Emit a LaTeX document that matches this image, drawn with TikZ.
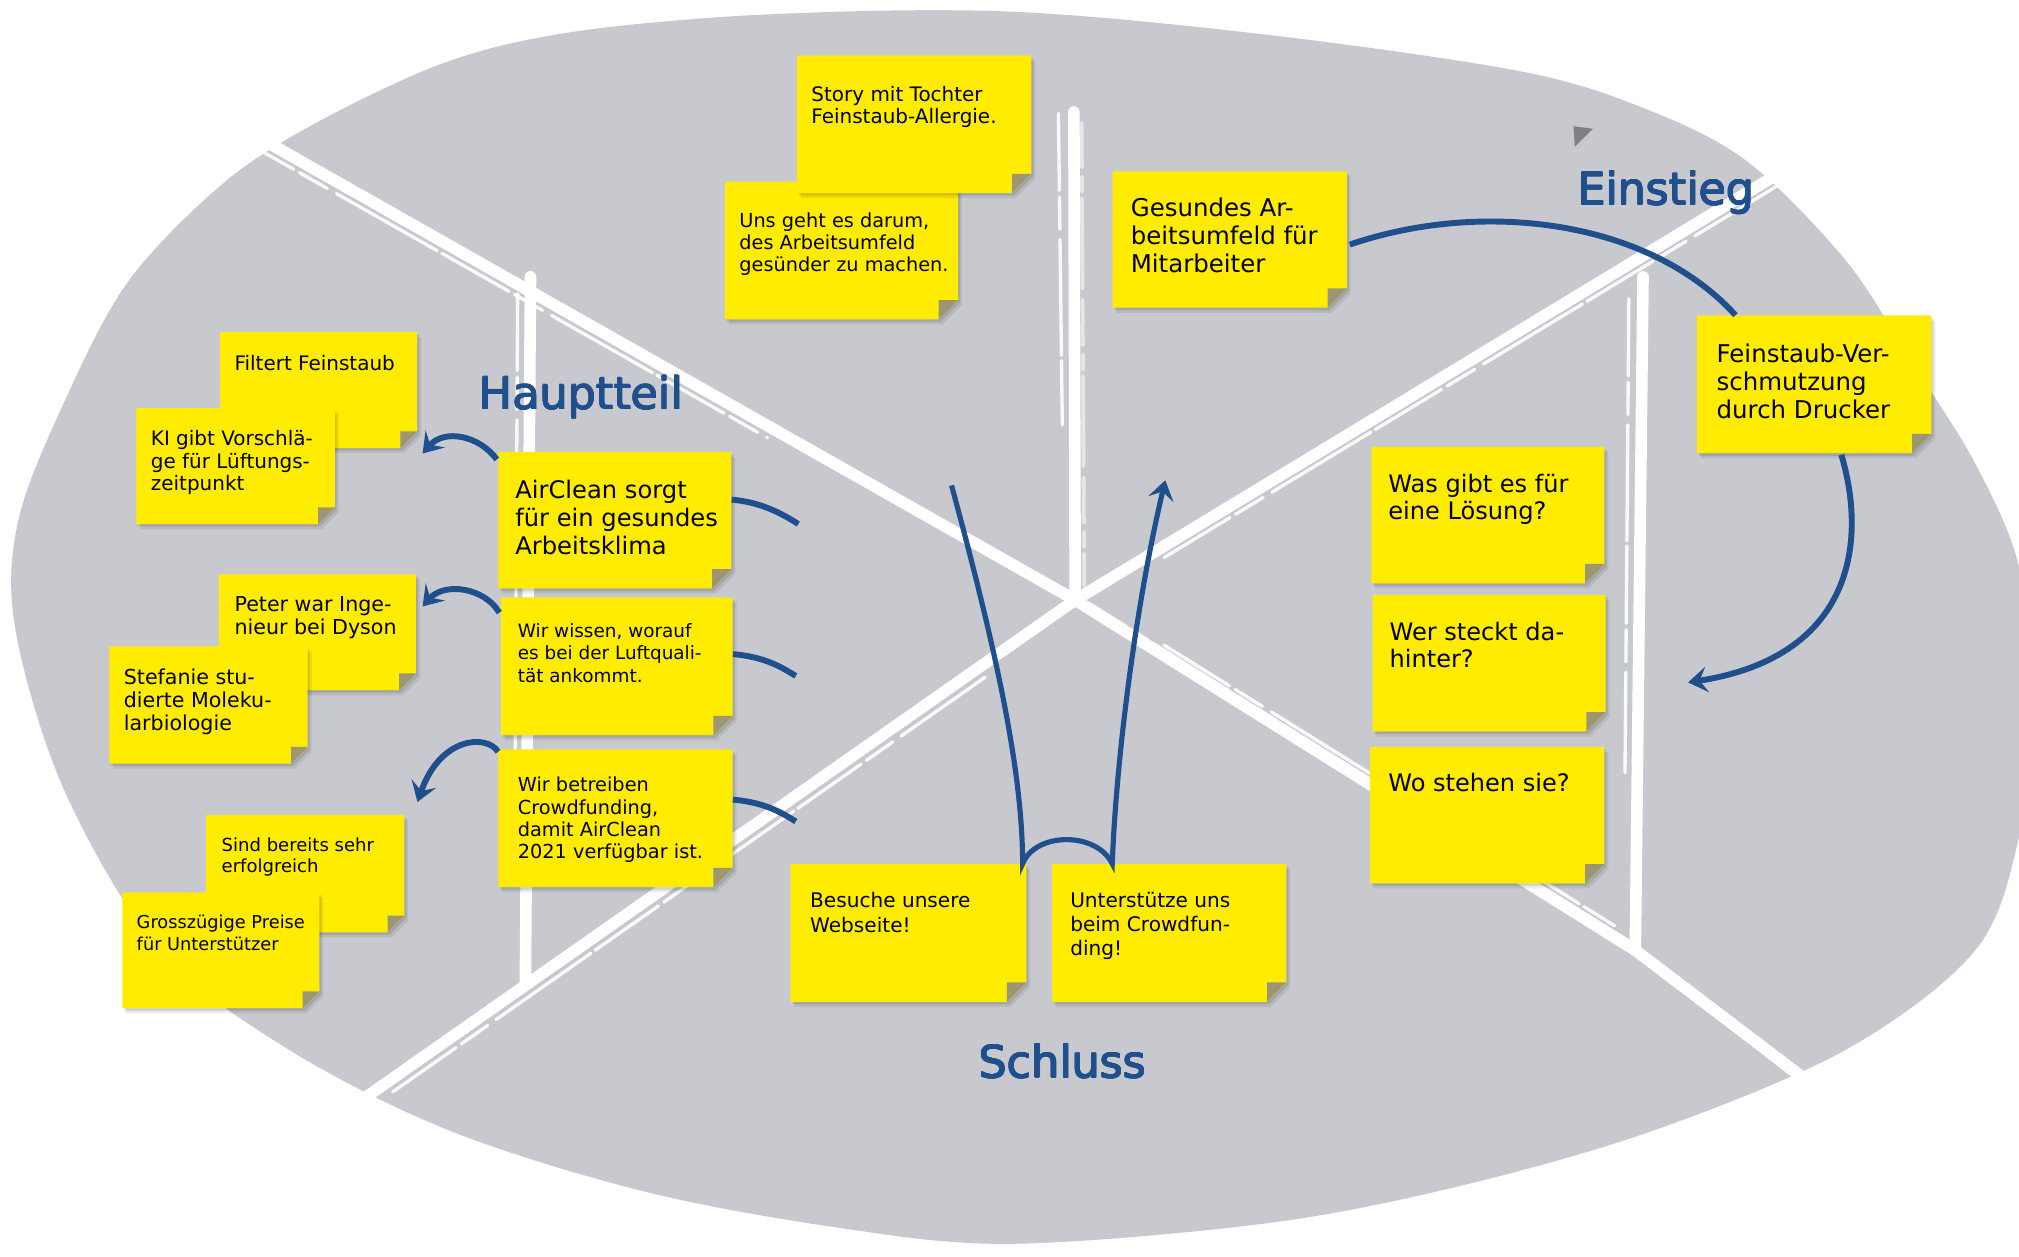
\documentclass[tikz,border=0pt]{standalone}
\usepackage{fontspec}
\setmainfont{DejaVu Sans}
\newfontfamily\titlefont{DejaVu Sans}
\usetikzlibrary{arrows.meta,calc}

\definecolor{blobgray}{RGB}{200,201,206}
\definecolor{noteyellow}{RGB}{255,236,0}
\definecolor{foldolive}{RGB}{156,150,114}
\definecolor{inkblue}{RGB}{31,79,140}
\definecolor{markgray}{RGB}{128,128,128}

% sticky note: name, x1, y1, x2, y2, fold size, font, text offset, text
\newcommand\stickynote[9]{%
  \fill[black,opacity=0.10,shift={(1.5,2)}] (#2,#3) -- (#4,#3) -- (#4,{#5-#6}) -- ({#4-#6},#5) -- (#2,#5) -- cycle;
  \fill[black,opacity=0.08,shift={(3,4)}] (#2,#3) -- (#4,#3) -- (#4,{#5-#6}) -- ({#4-#6},#5) -- (#2,#5) -- cycle;
  \fill[noteyellow] (#2,#3) -- (#4,#3) -- (#4,{#5-#6}) -- ({#4-#6},#5) -- (#2,#5) -- cycle;
  \fill[foldolive] (#4,{#5-#6}) -- ({#4-#6},#5) -- ({#4-#6},{#5-#6}) -- cycle;
  \node[inner sep=0pt, minimum width={#4-#2}, minimum height={#5-#3}] (#1) at ({(#2+#4)/2},{(#3+#5)/2}) {};
  \node[notetext, font={#7}] at ($(#2,#3)+(#8)$) {#9};
}

% section title, set a little heavier by overprinting with small offsets
\newcommand\sectiontitle[3]{%
  \foreach \dx/\dy in {0.4/0,-0.4/0,0/0.4,0/-0.4,0.3/0.3,-0.3/-0.3,0.3/-0.3,-0.3/0.3}
    \node[title] at ($(#2)+(\dx,\dy)$) {#3};
  \node[title] (#1) at (#2) {#3};
}

\begin{document}
\begin{tikzpicture}[x=1pt, y=-1pt,
  brush/.style={white, line width=9pt, line cap=round, line join=round},
  brushedge/.style={white, line width=3pt, line cap=round, opacity=0.55,
    dash pattern=on 35pt off 7pt on 12pt off 5pt on 70pt off 9pt},
  brushfine/.style={white, line width=2.6pt, line cap=round, opacity=0.9,
    dash pattern=on 60pt off 5pt on 25pt off 8pt on 90pt off 4pt},
  inkline/.style={inkblue, line width=4.6pt},
  inkarrow/.style={inkline, -{Stealth[length=15pt,width=20pt,inset=6pt]}},
  notetext/.style={anchor=north west, inner sep=0pt, align=left, text=black},
  title/.style={anchor=base west, inner sep=0pt, text=inkblue,
    font=\titlefont\fontsize{34.5}{40}\selectfont},
]
\useasboundingbox (0,0) rectangle (1568,976);
\fill[white] (0,0) rectangle (1568,976);

\begin{scope}
\clip (0,0) rectangle (1568,976);
% grey backdrop
\fill[blobgray] plot[smooth cycle, tension=0.55] coordinates {
  (784,9) (984,27) (1184,56) (1284,87) (1359,127) (1434,203) (1484,280)
  (1534,360) (1568,440) (1580,545) (1568,650) (1534,738) (1434,815)
  (1284,878) (1134,921) (984,950) (784,966) (648,953) (499,925) (349,878)
  (224,815) (124,738) (50,614) (12,489) (14,405) (50,312) (100,218)
  (175,141) (250,93) (350,47) (450,24) (600,11)};

% white brush strokes: a cross with three uprights
\coordinate (hub) at (835,466);
\draw[brush] (150,78) -- (hub) -- (1270,738) -- (1490,905);
\draw[brush] (230,890) -- (hub) -- (1480,75);
\draw[brush, line width=4pt, opacity=0.6] (230,890) -- (190,946);
\draw[brushedge] (160,80) -- (830,460);
\draw[brushedge] (240,880) -- (830,470);
\draw[brushedge] (845,462) -- (1470,82);
\draw[brushedge] (845,468) -- (1265,731);
\draw[brushfine] (176,102) -- (596,340);
\draw[brushfine] (305,848) -- (765,526);
\draw[brushfine] (904,433) -- (1404,130);
\draw[brushfine] (904,501) -- (1254,719);
\draw[brushfine] (1285,752) -- (1460,888);
\draw[brush] (834,87) -- (hub);
\draw[brushedge] (840,95) -- (842,455);
\draw[brushfine] (822,88) -- (825,330);
\draw[brush] (412,215) -- (408,765);
\draw[brushfine] (402,228) -- (400,600);
\draw[brush] (1276,215) -- (1270,738);
\draw[brushfine] (1265,232) -- (1262,600);
\end{scope}

% notes
\stickynote{unsnote}{563}{141}{744}{248}{15}{\fontsize{15}{17.2}\selectfont}{11,24}{Uns geht es darum,\\des Arbeitsumfeld\\gesünder zu machen.}
\stickynote{story}{619}{43}{801}{150}{15}{\fontsize{15.5}{17.3}\selectfont}{11,23.5}{Story mit Tochter\\Feinstaub-Allergie.}
\stickynote{gesund}{864}{133}{1046}{239}{15}{\fontsize{19}{21.7}\selectfont}{14,20.5}{Gesundes Ar-\\beitsumfeld für\\Mitarbeiter}
\stickynote{feinst}{1318}{245}{1500}{352}{15}{\fontsize{19}{21.7}\selectfont}{15,22}{Feinstaub-Ver-\\schmutzung\\durch Drucker}
\stickynote{loesung}{1065}{347}{1246}{453}{15}{\fontsize{18.7}{20.7}\selectfont}{13,21}{Was gibt es für\\eine Lösung?}
\stickynote{dahinter}{1066}{462}{1247}{568}{15}{\fontsize{18.7}{20.8}\selectfont}{13,21}{Wer steckt da-\\hinter?}
\stickynote{stehen}{1064}{580}{1246}{686}{15}{\fontsize{18.7}{20.8}\selectfont}{14,20}{Wo stehen sie?}
\stickynote{filtert}{171}{258}{324}{348}{13}{\fontsize{15.5}{17.5}\selectfont}{11,18}{Filtert Feinstaub}
\stickynote{ki}{106}{317}{260}{407}{13}{\fontsize{15.5}{17.5}\selectfont}{11,17.3}{KI gibt Vorschlä-\\ge für Lüftungs-\\zeitpunkt}
\stickynote{air}{387}{351}{568}{457}{15}{\fontsize{18.8}{21.9}\selectfont}{13,21.3}{AirClean sorgt\\für ein gesundes\\Arbeitsklima}
\stickynote{peter}{170}{446}{323}{536}{13}{\fontsize{16}{18}\selectfont}{12,17}{Peter war Inge-\\nieur bei Dyson}
\stickynote{stef}{85}{502}{239}{593}{13}{\fontsize{16}{18}\selectfont}{11,17.3}{Stefanie stu-\\dierte Moleku-\\larbiologie}
\stickynote{wissen}{389}{464}{569}{571}{15}{\fontsize{14.3}{17.5}\selectfont}{13,20}{Wir wissen, worauf\\es bei der Luftquali-\\tät ankommt.}
\stickynote{betr}{387}{582}{569}{689}{15}{\fontsize{15}{17.4}\selectfont}{15,21.2}{Wir betreiben\\Crowdfunding,\\damit AirClean\\2021 verfügbar ist.}
\stickynote{sind}{160}{633}{314}{724}{13}{\fontsize{14}{16.5}\selectfont}{12,17.2}{Sind bereits sehr\\erfolgreich}
\stickynote{preise}{95}{693}{248}{783}{13}{\fontsize{13.8}{16.8}\selectfont}{11,17.7}{Grosszügige Preise\\für Unterstützer}
\stickynote{besuch}{614}{671}{797}{778}{15}{\fontsize{15.6}{19}\selectfont}{15,22}{Besuche unsere\\Webseite!}
\stickynote{unter}{817}{671}{999}{778}{15}{\fontsize{15.6}{18.7}\selectfont}{14,22}{Unterstütze uns\\beim Crowdfun-\\ding!}

% free ends of connectors
\coordinate (problemTip) at (1311,530);
\coordinate (stubA) at (620,407);
\coordinate (stubB) at (618,525);
\coordinate (stubC) at (618,638);
\coordinate (closeTop) at (739,377);
\coordinate (closeTip) at (905,373);

% Einstieg connectors
\draw[inkline] ($(gesund.east)+(2,4)$) .. controls (1150,155) and (1280,170) .. ($(feinst.north west)+(30,0)$);
\draw[inkarrow] ($(feinst.south)+(21,1)$) .. controls (1450,420) and (1440,510) .. (problemTip);

% Hauptteil connectors
\draw[inkarrow] ($(air.north west)+(-1,6)$) .. controls (372,338) and (345,333) .. ($(filtert.south east)+(4,4)$);
\draw[inkarrow] ($(wissen.north west)+(-1,12)$) .. controls (376,456) and (345,452) .. ($(peter.east)+(5,-20)$);
\draw[inkarrow] ($(betr.north west)+(0,2)$) .. controls (378,570) and (342,572) .. ($(sind.north east)+(10,-10)$);
\draw[inkline] ($(air.east)+(0,-16)$) .. controls +(22,2) and +(-14,-9) .. (stubA);
\draw[inkline] ($(wissen.east)+(0,-9.5)$) .. controls +(22,2) and +(-14,-9) .. (stubB);
\draw[inkline] ($(betr.east)+(0,-14.5)$) .. controls +(22,2) and +(-14,-9) .. (stubC);

% Schluss connector
\draw[inkline, line width=4pt, -{Stealth[length=15pt,width=20pt,inset=6pt]}]
  (closeTop) .. controls (775,510) and (794,600) .. ($(besuch.north east)+(-3,0)$)
  .. controls +(10,-25) and +(-12,-25) .. ($(unter.north west)+(47,0)$)
  .. controls +(3,-81) and (882,470) .. (closeTip);

% section titles
\sectiontitle{hauptteil}{372,318}{Hauptteil}
\sectiontitle{einstieg}{1225,159}{Einstieg}
\sectiontitle{schluss}{760,837}{Schluss}

% small marker
\fill[markgray] (1222,98) -- (1237,100) -- (1223,114) -- cycle;
\end{tikzpicture}
\end{document}
